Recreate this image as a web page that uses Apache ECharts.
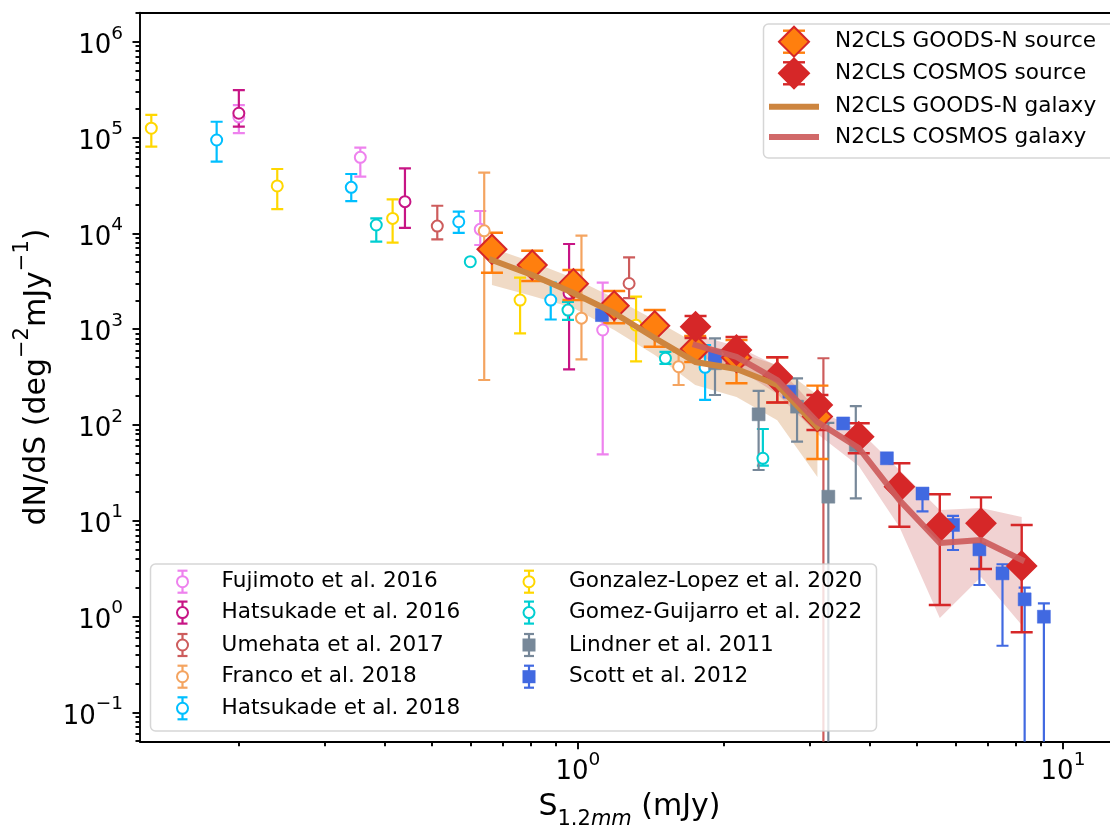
<!DOCTYPE html>
<html>
<head>
<meta charset="utf-8">
<script src="https://cdn.jsdelivr.net/npm/echarts@6/dist/echarts.min.js"></script>
<style>
  html, body { margin: 0; padding: 0; background: #fff; }
  #chart { width: 1110px; height: 825px; }
</style>
</head>
<body>
<div id="chart"></div>
<script>
// ---- N2CLS number counts (S in mJy, dN/dS in deg^-2 mJy^-1) ----
const goodsS   = [0.665, 0.805, 0.979, 1.188, 1.440, 1.745, 2.123, 2.576, 3.117];
const goodsN   = [6810, 4670, 2980, 1755, 1085, 620, 505, 309, 122];
const goodsLo  = [3880, 3180, 2010, 1150, 655, 453, 272, 171, 44];
const goodsHi  = [10140, 6580, 4140, 2500, 1580, 847, 769, 508, 257];
const goodsGal   = [5265, 3673, 2382, 1472, 807, 454, 383, 261, 95];
const goodsGalLo = [2884, 2215, 1660, 979, 537, 261, 195, 112, 28.6];
const goodsGalHi = [7030, 5013, 3415, 2112, 1245, 716, 577, 422, 205];

const cosmosS  = [1.748, 2.123, 2.576, 3.117, 3.793, 4.600, 5.572, 6.776, 8.220];
const cosmosN  = [1059, 605, 319, 161, 75.3, 22.6, 8.65, 9.40, 3.37];
const cosmosLo = [807, 432, 171, 88.5, 50.5, 8.65, 1.32, 3.13, 0.684];
const cosmosHi = [1371, 826, 508, 205, 104, 39.7, 18.9, 17.5, 9.02];
const cosmosGal   = [682, 512, 294, 107, 57.4, 16.4, 5.85, 6.29, 3.89];
const cosmosGalLo = [524, 393, 210, 80.4, 37.2, 8.59, 0.964, 2.58, 0.815];
const cosmosGalHi = [867, 667, 412, 143, 88.5, 33.8, 12.9, 13.6, 10.9];

// ---- literature: [S, dN/dS, lower, upper]; lower 0 = bar runs off the axis ----
const fujimoto2016 = [[0.200, 164000, 111000, 218000], [0.356, 62100, 39000, 78300], [0.629, 11000, 7550, 17100], [1.125, 979, 49.3, 3060]];
const hatsukade2016 = [[0.200, 179000, 130000, 313000], [0.440, 21400, 11400, 47700], [0.959, 2360, 380, 7730]];
const umehata2017 = [[0.513, 11900, 8650, 19400], [1.275, 2990, 2100, 5610], [3.207, 157, 0, 496]];
const franco2018 = [[0.641, 10600, 294, 42900], [1.017, 1300, 484, 9440], [1.613, 405, 261, 577]];
const hatsukade2018 = [[0.180, 94200, 55900, 146000], [0.341, 30200, 21700, 41600], [0.568, 13200, 10100, 16800], [0.879, 2010, 1260, 3050], [1.829, 399, 182, 682]];
const gonzalezLopez2020 = [[0.132, 125000, 80200, 172000], [0.240, 31200, 17900, 46900], [0.415, 14300, 7980, 22600], [0.760, 2010, 904, 3440], [1.318, 1100, 461, 2180]];
const gomezGuijarro2022 = [[0.384, 12200, 8170, 14300], [0.600, 5050, 5050, 5050], [0.954, 1580, 1245, 1920], [1.515, 496, 432, 577], [2.406, 44.8, 37.5, 90.6]];
const lindner2011 = [[1.917, 440, 205, 801], [2.358, 129, 33.8, 226], [2.830, 155, 66.8, 306], [3.283, 17.8, 0, 105], [3.740, 61.7, 17.1, 157]];
const scott2012 = [[1.121, 1400, 1300, 1500], [1.917, 524, 480, 570], [2.729, 222, 205, 240], [3.523, 103.5, 95, 112], [4.335, 44.8, 41, 49], [5.133, 19.2, 12.5, 21], [5.933, 9.02, 4.94, 11.2], [6.725, 5.02, 2.13, 5.5], [7.504, 2.82, 0.495, 3.51], [8.336, 1.51, 0, 2.0], [9.133, 0.995, 0, 1.37]];

// ---- ticks ----
const xMajor = [1, 10];
const xMinor = [0.2, 0.3, 0.4, 0.5, 0.6, 0.7, 0.8, 0.9, 2, 3, 4, 5, 6, 7, 8, 9];
const yMajor = [0.1, 1, 10, 100, 1e3, 1e4, 1e5, 1e6];

const X_MIN = 0.1251, X_MAX = 12.5, Y_MIN = 0.0493, Y_MAX = 2.008e6;
const FONT = 'DejaVu Sans';

var yMinor = [];
for (var d = -2; d <= 6; d++) {
  for (var k = 2; k <= 9; k++) {
    var v = k * Math.pow(10, d);
    if (v > Y_MIN && v < Y_MAX) yMinor.push(v);
  }
}

const literature = [
  { name: 'Fujimoto et al. 2016', rows: fujimoto2016, color: '#ee82ee', shape: 'circle' },
  { name: 'Hatsukade et al. 2016', rows: hatsukade2016, color: '#c71585', shape: 'circle' },
  { name: 'Umehata et al. 2017', rows: umehata2017, color: '#cd5c5c', shape: 'circle' },
  { name: 'Franco et al. 2018', rows: franco2018, color: '#f4a460', shape: 'circle' },
  { name: 'Hatsukade et al. 2018', rows: hatsukade2018, color: '#00bfff', shape: 'circle' },
  { name: 'Gonzalez-Lopez et al. 2020', rows: gonzalezLopez2020, color: '#ffd700', shape: 'circle' },
  { name: 'Gomez-Guijarro et al. 2022', rows: gomezGuijarro2022, color: '#00ced1', shape: 'circle' },
  { name: 'Lindner et al. 2011', rows: lindner2011, color: '#778899', shape: 'rect' },
  { name: 'Scott et al. 2012', rows: scott2012, color: '#4169e1', shape: 'rect' }
];

function powLabel(v) {
  var e = Math.round(Math.log10(v));
  return '{b|10}{s|' + (e < 0 ? '\u2212' + (-e) : e) + '}';
}
const tickRich = {
  b: { fontSize: 26, fontFamily: FONT, color: '#000', lineHeight: 35, verticalAlign: 'bottom' },
  s: { fontSize: 18.5, fontFamily: FONT, color: '#000', lineHeight: 18.5, verticalAlign: 'top' }
};

function errorSeries(name, rows, color, capW, lw) {
  return {
    name: name, type: 'custom', data: rows, encode: { x: 0, y: 1 }, clip: true, silent: true,
    renderItem: function (params, api) {
      var x = api.value(0), lo = api.value(2), hi = api.value(3);
      if (lo === hi) return { type: 'group', children: [] };
      var cs = params.coordSys;
      var floor = cs.y + cs.height;
      var top = api.coord([x, hi]);
      var cx = top[0];
      var bottom = lo > 0 ? api.coord([x, lo])[1] : floor;
      var st = { stroke: color, lineWidth: lw };
      var kids = [
        { type: 'line', shape: { x1: cx, y1: top[1], x2: cx, y2: Math.min(bottom, floor) }, style: st },
        { type: 'line', shape: { x1: cx - capW / 2, y1: top[1], x2: cx + capW / 2, y2: top[1] }, style: st }
      ];
      if (lo > 0 && bottom <= floor) {
        kids.push({ type: 'line', shape: { x1: cx - capW / 2, y1: bottom, x2: cx + capW / 2, y2: bottom }, style: st });
      }
      return { type: 'group', children: kids };
    }
  };
}

function bandSeries(xs, lo, hi, fill) {
  return {
    type: 'custom', data: [[1, 1]], clip: true, silent: true,
    renderItem: function (params, api) {
      var pts = [];
      for (var i = 0; i < xs.length; i++) pts.push(api.coord([xs[i], hi[i]]));
      for (var j = xs.length - 1; j >= 0; j--) pts.push(api.coord([xs[j], lo[j]]));
      return { type: 'polygon', shape: { points: pts }, style: { fill: fill } };
    }
  };
}

function zip(xs, ys) { return xs.map(function (x, i) { return [x, ys[i]]; }); }
function zip4(xs, ys, lo, hi) { return xs.map(function (x, i) { return [x, ys[i], lo[i], hi[i]]; }); }

var series = [];
series.push(bandSeries(goodsS, goodsGalLo, goodsGalHi, 'rgba(205,133,63,0.3)'));
series.push(bandSeries(cosmosS, cosmosGalLo, cosmosGalHi, 'rgba(205,92,92,0.28)'));
series.push({
  name: 'N2CLS GOODS-N galaxy', type: 'line', data: zip(goodsS, goodsGal), showSymbol: false, silent: true,
  lineStyle: { color: '#cd853f', width: 6, cap: 'square', join: 'round' }
});
series.push({
  name: 'N2CLS COSMOS galaxy', type: 'line', data: zip(cosmosS, cosmosGal), showSymbol: false, silent: true,
  lineStyle: { color: 'rgba(205,92,92,0.92)', width: 6, cap: 'square', join: 'round' }
});
literature.forEach(function (L) {
  series.push(errorSeries(L.name, L.rows, L.color, 12, 2.2));
  series.push({
    name: L.name, type: 'scatter', data: L.rows.map(function (r) { return [r[0], r[1]]; }),
    symbol: L.shape,
    symbolSize: L.shape === 'circle' ? 11 : 13,
    itemStyle: L.shape === 'circle'
      ? { color: '#fff', borderColor: L.color, borderWidth: 2, opacity: 1 }
      : { color: L.color, borderColor: L.color, borderWidth: 0.5, opacity: 1 }
  });
});
series.push(errorSeries('N2CLS GOODS-N source', zip4(goodsS, goodsN, goodsLo, goodsHi), '#ff7f0e', 22, 2.4));
series.push({
  name: 'N2CLS GOODS-N source', type: 'scatter', data: zip(goodsS, goodsN), symbol: 'diamond', symbolSize: 29,
  itemStyle: { color: '#ff7f0e', borderColor: '#d62728', borderWidth: 2, opacity: 1 }
});
series.push(errorSeries('N2CLS COSMOS source', zip4(cosmosS, cosmosN, cosmosLo, cosmosHi), '#d62728', 22, 2.4));
series.push({
  name: 'N2CLS COSMOS source', type: 'scatter', data: zip(cosmosS, cosmosN), symbol: 'diamond', symbolSize: 29,
  itemStyle: { color: '#d62728', borderColor: '#d62728', borderWidth: 2, opacity: 1 }
});

// ---- legends (drawn as graphics on top) ----
var g = [];
var Z = 100;
function errGlyph(cx, cy, color, capW, half, lw) {
  var st = { stroke: color, lineWidth: lw };
  g.push({ type: 'line', z: Z, shape: { x1: cx, y1: cy - half, x2: cx, y2: cy + half }, style: st });
  g.push({ type: 'line', z: Z, shape: { x1: cx - capW / 2, y1: cy - half, x2: cx + capW / 2, y2: cy - half }, style: st });
  g.push({ type: 'line', z: Z, shape: { x1: cx - capW / 2, y1: cy + half, x2: cx + capW / 2, y2: cy + half }, style: st });
}
function legText(x, y, t) {
  g.push({ type: 'text', z: Z, x: x, y: y, style: { text: t, font: '21.6px "DejaVu Sans"', fill: '#000', verticalAlign: 'middle', align: 'left' } });
}
// upper legend
g.push({ type: 'rect', z: Z, shape: { x: 763.5, y: 24, width: 355, height: 134, r: 5 },
  style: { fill: 'rgba(255,255,255,0.8)', stroke: 'rgba(204,204,204,0.8)', lineWidth: 1.5 } });
var upY = [41.7, 73.3, 106.7, 137];
[['#ff7f0e', '#d62728'], ['#d62728', '#d62728']].forEach(function (c, i) {
  var cy = upY[i];
  errGlyph(794, cy, c[0], 22, 11, 2.4);
  g.push({ type: 'polygon', z: Z, shape: { points: [[794 - 15, cy], [794, cy - 15], [794 + 15, cy], [794, cy + 15]] },
    style: { fill: c[0], stroke: c[1], lineWidth: 2 } });
});
g.push({ type: 'line', z: Z, shape: { x1: 769, y1: upY[2], x2: 819, y2: upY[2] }, style: { stroke: '#cd853f', lineWidth: 6 } });
g.push({ type: 'line', z: Z, shape: { x1: 769, y1: upY[3], x2: 819, y2: upY[3] }, style: { stroke: 'rgba(205,92,92,0.92)', lineWidth: 6 } });
legText(835, upY[0], 'N2CLS GOODS-N source');
legText(835, upY[1], 'N2CLS COSMOS source');
legText(835, upY[2], 'N2CLS GOODS-N galaxy');
legText(835, upY[3], 'N2CLS COSMOS galaxy');

// lower legend
g.push({ type: 'rect', z: Z, shape: { x: 150.5, y: 564, width: 726, height: 167, r: 5 },
  style: { fill: 'rgba(255,255,255,0.8)', stroke: 'rgba(204,204,204,0.8)', lineWidth: 1.5 } });
var lowY = [581.7, 612.6, 645, 676.7, 708.3];
literature.forEach(function (L, i) {
  var col = i < 5 ? 0 : 1;
  var row = i < 5 ? i : i - 5;
  var cx = col === 0 ? 182.5 : 529;
  var tx = col === 0 ? 221.6 : 569;
  var cy = lowY[row];
  errGlyph(cx, cy, L.color, 10, 11, 2.2);
  if (L.shape === 'circle') {
    g.push({ type: 'circle', z: Z, shape: { cx: cx, cy: cy, r: 5.5 }, style: { fill: '#fff', stroke: L.color, lineWidth: 2 } });
  } else {
    g.push({ type: 'rect', z: Z, shape: { x: cx - 6.5, y: cy - 6.5, width: 13, height: 13 }, style: { fill: L.color } });
  }
  legText(tx, cy, L.name);
});

// axis titles
g.push({ type: 'text', z: Z, x: 32.5, y: 377, rotation: Math.PI / 2,
  style: {
    text: '{t|dN/dS (deg}{s|\u22122}{t|mJy}{s|\u22121}{t|)}', align: 'center', verticalAlign: 'middle',
    rich: {
      t: { fontSize: 30, fontFamily: FONT, fill: '#000', lineHeight: 40, verticalAlign: 'bottom' },
      s: { fontSize: 21, fontFamily: FONT, fill: '#000', lineHeight: 21, verticalAlign: 'top' }
    }
  } });
g.push({ type: 'text', z: Z, x: 629.5, y: 811,
  style: {
    text: '{t|S}{u|1.2}{i|mm}{t| (mJy)}', align: 'center', verticalAlign: 'middle',
    rich: {
      t: { fontSize: 30, fontFamily: FONT, fill: '#000', lineHeight: 38, verticalAlign: 'top' },
      u: { fontSize: 21, fontFamily: FONT, fill: '#000', lineHeight: 21, verticalAlign: 'bottom' },
      i: { fontSize: 21, fontFamily: FONT, fontStyle: 'italic', fill: '#000', lineHeight: 21, verticalAlign: 'bottom' }
    }
  } });

function logAxis(extra, min, max) {
  return Object.assign({
    type: 'log', logBase: 10, min: min, max: max,
    splitLine: { show: false }, minorTick: { show: false }, minorSplitLine: { show: false }
  }, extra);
}
var axisLineStyle = { color: '#000', width: 1.9 };

var option = {
  animation: false,
  backgroundColor: '#fff',
  textStyle: { fontFamily: FONT },
  grid: { left: 140, top: 12.7, width: 979, height: 729, containLabel: false },
  xAxis: [
    logAxis({
      position: 'bottom',
      axisLine: { show: true, onZero: false, lineStyle: axisLineStyle },
      axisTick: { show: true, inside: false, length: 7.5, lineStyle: axisLineStyle, customValues: xMajor },
      axisLabel: { show: true, customValues: xMajor, margin: 9, formatter: powLabel, rich: tickRich }
    }, X_MIN, X_MAX),
    logAxis({
      position: 'bottom',
      axisLine: { show: false },
      axisTick: { show: true, inside: false, length: 4.5, lineStyle: axisLineStyle, customValues: xMinor },
      axisLabel: { show: false }
    }, X_MIN, X_MAX),
    logAxis({
      position: 'top',
      axisLine: { show: true, onZero: false, lineStyle: axisLineStyle },
      axisTick: { show: false }, axisLabel: { show: false }
    }, X_MIN, X_MAX)
  ],
  yAxis: [
    logAxis({
      position: 'left',
      axisLine: { show: true, onZero: false, lineStyle: axisLineStyle },
      axisTick: { show: true, inside: false, length: 7.5, lineStyle: axisLineStyle, customValues: yMajor },
      axisLabel: { show: true, customValues: yMajor, margin: 17, formatter: powLabel, rich: tickRich }
    }, Y_MIN, Y_MAX),
    logAxis({
      position: 'left',
      axisLine: { show: false },
      axisTick: { show: true, inside: false, length: 4.5, lineStyle: axisLineStyle, customValues: yMinor },
      axisLabel: { show: false }
    }, Y_MIN, Y_MAX)
  ],
  series: series,
  graphic: g
};

var chart = echarts.init(document.getElementById('chart'));
chart.setOption(option);
</script>
</body>
</html>
